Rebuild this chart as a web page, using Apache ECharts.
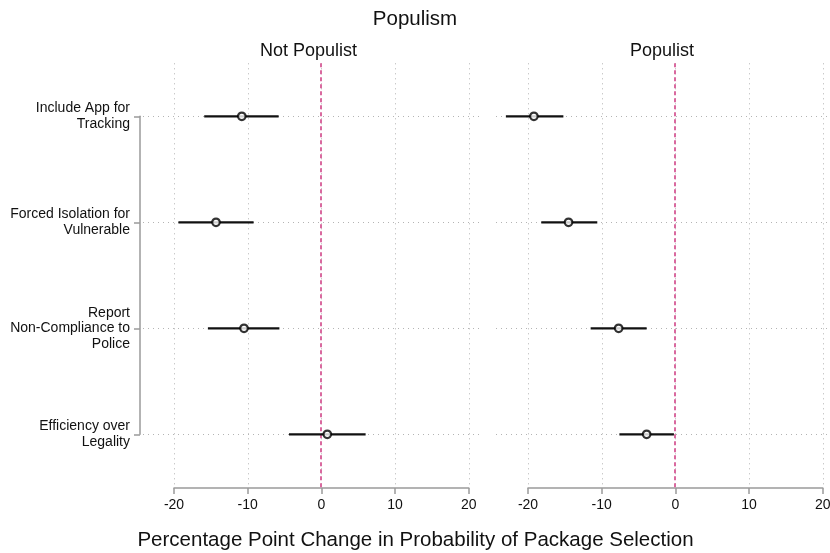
<!DOCTYPE html>
<html>
<head>
<meta charset="utf-8">
<title>Populism</title>
<script src="https://cdn.jsdelivr.net/npm/echarts@6/dist/echarts.min.js"></script>
<style>
  html, body { margin: 0; padding: 0; background: #fff; }
  #chart { width: 830px; height: 553px; }
</style>
</head>
<body>
<div id="chart"></div>
<script>
// Package attributes (rows, top to bottom)
const categories = [
  'Include App for\nTracking',
  'Forced Isolation for\nVulnerable',
  'Report\nNon-Compliance to\nPolice',
  'Efficiency over\nLegality'
];
const panelTitles = ['Not Populist', 'Populist'];

// Point estimates and 95% interval bounds (percentage points)
const notPopulistEst = [-10.8, -14.3, -10.5, 0.8];
const notPopulistLo  = [-15.9, -19.4, -15.4, -4.4];
const notPopulistHi  = [-5.8,  -9.2,  -5.7,  6.0];

const populistEst = [-19.2, -14.5, -7.7, -3.9];
const populistLo  = [-23.0, -18.2, -11.5, -7.6];
const populistHi  = [-15.2, -10.6, -3.9, -0.2];

const xTicks = [-20, -10, 0, 10, 20];
const referenceValue = 0;

const mainTitle = 'Populism';
const xTitle = 'Percentage Point Change in Probability of Package Selection';

// ---- layout ----
const FONT = '"Liberation Sans", Arial, Helvetica, sans-serif';
const TEXT = '#111';
const AXIS_GRAY = '#9a9a9a';
const PX = 7.37;                       // pixels per percentage point
const axisMin = xTicks[0], axisMax = xTicks[xTicks.length - 1];
const axisSpan = (axisMax - axisMin) * PX;
const rowTop = 116.3, rowStep = 106;   // first row centre, row spacing
const plotTop = rowTop - rowStep / 2;
const plotHeight = rowStep * categories.length;
const xAxisY = 488;

const panels = [
  { regionLeft: 140, regionRight: 480, axisLeft: 174,
    est: notPopulistEst, lo: notPopulistLo, hi: notPopulistHi },
  { regionLeft: 493, regionRight: 834, axisLeft: 528,
    est: populistEst, lo: populistLo, hi: populistHi }
];

const rowPos = categories.map((c, i) => i + 1);

const grid = [], xAxis = [], yAxis = [], series = [], graphic = [];

panels.forEach((p, k) => {
  const axisRight = p.axisLeft + axisSpan;
  const xMin = axisMin - (p.axisLeft - p.regionLeft) / PX;
  const xMax = axisMax + (p.regionRight - axisRight) / PX;

  // data grid (wide plot region)
  const gData = grid.length;
  grid.push({ left: p.regionLeft, top: plotTop, width: p.regionRight - p.regionLeft,
              height: plotHeight, outerBoundsMode: 'none', containLabel: false });
  xAxis.push({ gridIndex: gData, type: 'value', min: xMin, max: xMax, show: false });
  yAxis.push({ gridIndex: gData, type: 'value', min: 0.5, max: categories.length + 0.5,
               inverse: true, show: false });

  // vertical dotted gridlines
  series.push({
    type: 'custom', xAxisIndex: gData, yAxisIndex: gData, silent: true, z: 1,
    data: xTicks.map(v => [v]), encode: { x: 0 },
    renderItem: (params, api) => {
      const cs = params.coordSys;
      const x = Math.round(api.coord([api.value(0), 1])[0]) + 0.5;
      return { type: 'line', shape: { x1: x, y1: cs.y, x2: x, y2: cs.y + cs.height - 2 },
               style: { stroke: '#b4b4b4', lineWidth: 1, lineDash: [1, 4] } };
    }
  });
  // horizontal dotted gridlines
  series.push({
    type: 'custom', xAxisIndex: gData, yAxisIndex: gData, silent: true, z: 1,
    data: rowPos.map(v => [v]), encode: { y: 0 },
    renderItem: (params, api) => {
      const cs = params.coordSys;
      const y = Math.round(api.coord([0, api.value(0)])[1]) + 0.5;
      return { type: 'line', shape: { x1: cs.x + 3, y1: y, x2: cs.x + cs.width, y2: y },
               style: { stroke: '#b4b4b4', lineWidth: 1, lineDash: [1, 4] } };
    }
  });
  // reference line at zero
  series.push({
    type: 'custom', xAxisIndex: gData, yAxisIndex: gData, silent: true, z: 2,
    data: [[referenceValue]], encode: { x: 0 },
    renderItem: (params, api) => {
      const cs = params.coordSys;
      const x = Math.round(api.coord([api.value(0), 1])[0]);
      return { type: 'line', shape: { x1: x, y1: cs.y, x2: x, y2: cs.y + cs.height },
               style: { stroke: '#d9699f', lineWidth: 2, lineDash: [4, 3] } };
    }
  });
  // confidence intervals
  series.push({
    type: 'custom', xAxisIndex: gData, yAxisIndex: gData, silent: true, z: 3,
    data: p.lo.map((lo, i) => [lo, p.hi[i], rowPos[i]]), encode: { x: [0, 1], y: 2 },
    renderItem: (params, api) => {
      const a = api.coord([api.value(0), api.value(2)]);
      const b = api.coord([api.value(1), api.value(2)]);
      return { type: 'line', shape: { x1: a[0], y1: a[1], x2: b[0], y2: b[1] },
               style: { stroke: '#111', lineWidth: 2.2 } };
    }
  });
  // point estimates
  series.push({
    type: 'scatter', xAxisIndex: gData, yAxisIndex: gData, silent: true, z: 4,
    symbol: 'circle', symbolSize: 7.5,
    itemStyle: { color: '#fff', borderColor: '#000', borderWidth: 2.2 },
    data: p.est.map((v, i) => [v, rowPos[i]])
  });

  // x axis spanning the tick range only
  const gAxis = grid.length;
  grid.push({ left: p.axisLeft, top: xAxisY - 1, width: axisSpan, height: 1,
              outerBoundsMode: 'none', containLabel: false });
  xAxis.push({
    gridIndex: gAxis, type: 'value', position: 'bottom', min: axisMin, max: axisMax, interval: 10,
    axisLine: { show: true, lineStyle: { color: AXIS_GRAY, width: 1.5 } },
    axisTick: { show: true, length: 6, inside: false, lineStyle: { color: AXIS_GRAY, width: 1.5 } },
    axisLabel: { show: true, margin: 10, color: TEXT, fontFamily: FONT, fontSize: 14,
                 showMinLabel: true, showMaxLabel: true },
    splitLine: { show: false }
  });
  yAxis.push({ gridIndex: gAxis, type: 'value', show: false });

  // panel header
  graphic.push({
    type: 'text', x: (p.regionLeft + p.regionRight) / 2 - 1.5, y: 51,
    style: { text: panelTitles[k], fill: TEXT, font: `18px ${FONT}`,
             textAlign: 'center', textVerticalAlign: 'middle' }
  });
});

// category axis on the left, spanning first to last row
const gCat = grid.length;
grid.push({ left: 140, top: rowTop, width: 10, height: rowStep * (categories.length - 1),
            outerBoundsMode: 'none', containLabel: false });
xAxis.push({ gridIndex: gCat, type: 'value', show: false });
yAxis.push({
  gridIndex: gCat, type: 'category', data: categories, inverse: true, boundaryGap: false,
  position: 'left',
  axisLine: { show: true, lineStyle: { color: AXIS_GRAY, width: 1.5 } },
  axisTick: { show: true, length: 6, inside: false, interval: 0,
              lineStyle: { color: AXIS_GRAY, width: 1.5 } },
  axisLabel: { show: true, interval: 0, margin: 10, color: TEXT, fontFamily: FONT,
               fontSize: 14, lineHeight: 15.5, align: 'right' },
  splitLine: { show: false }
});

graphic.push({
  type: 'text', x: 415, y: 19,
  style: { text: mainTitle, fill: TEXT, font: `20.5px ${FONT}`,
           textAlign: 'center', textVerticalAlign: 'middle' }
});
graphic.push({
  type: 'text', x: 415.5, y: 540,
  style: { text: xTitle, fill: TEXT, font: `20.5px ${FONT}`,
           textAlign: 'center', textVerticalAlign: 'middle' }
});

const chart = echarts.init(document.getElementById('chart'), null, { renderer: 'canvas' });
chart.setOption({
  backgroundColor: '#fff',
  animation: false,
  grid, xAxis, yAxis, series, graphic
});
</script>
</body>
</html>
